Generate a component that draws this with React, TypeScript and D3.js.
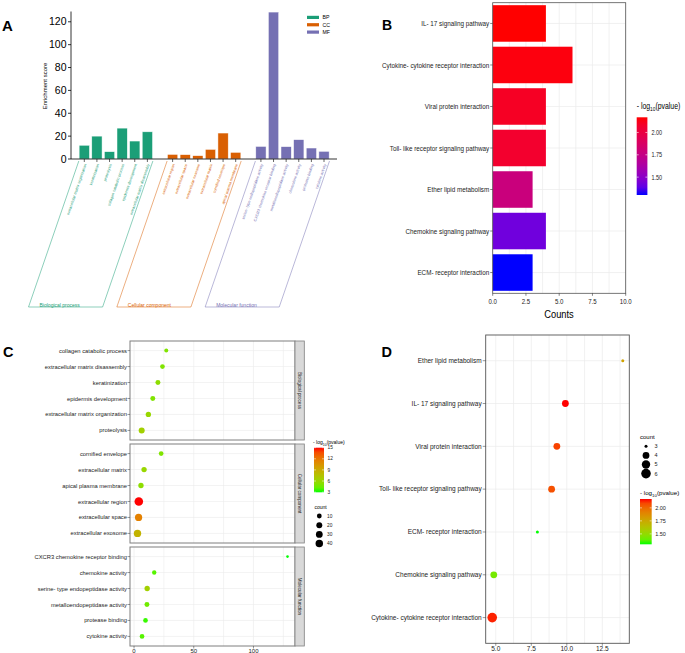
import React from "react";
import * as d3 from "d3";

const SANS = "'Liberation Sans', Arial, Helvetica, sans-serif";
const NARROW_SCALE = 0.81;

// ---------- GO enrichment data (panels A and C) ----------
const goOntologies = ["BP", "CC", "MF"];
const goOntologyNames = ["Biological process", "Cellular component", "Molecular function"];
const goColors = ["#1b9e77", "#d95f02", "#7570b3"];
const goTerms = [
  "extracellular matrix organization", "keratinization", "proteolysis",
  "collagen catabolic process", "epidermis development", "extracellular matrix disassembly",
  "extracellular region", "extracellular space", "extracellular exosome",
  "extracellular matrix", "cornified envelope", "apical plasma membrane",
  "serine- type endopeptidase activity", "CXCR3 chemokine receptor binding", "metalloendopeptidase activity",
  "chemokine activity", "protease binding", "cytokine activity",
];
const goOntologyOf = ["BP", "BP", "BP", "BP", "BP", "BP", "CC", "CC", "CC", "CC", "CC", "CC", "MF", "MF", "MF", "MF", "MF", "MF"];
const goEnrichment = [12, 20, 6.4, 27, 15.7, 23.8, 4.0, 3.8, 2.9, 8.4, 22.7, 5.8, 11, 128.5, 10.8, 16.9, 9.6, 6.7];
const goCount = [14, 11, 21, 5, 11, 9, 60, 37, 39, 14, 9, 14, 14, 2, 11, 7, 9, 9];
const goNegLogP = [6, 5.5, 6.5, 5, 5, 5, 15, 11.5, 8.5, 6, 5, 5.5, 6.5, 2.95, 4.5, 3.8, 3.3, 3.8];
const goScoreTicks = [0, 20, 40, 60, 80, 100, 120];
const goCountLegend = [10, 20, 30, 40];
const goPLegend = [3, 6, 9, 12, 15];

// ---------- KEGG data (panels B and D) ----------
const keggTerms = [
  "IL- 17 signaling pathway", "Cytokine- cytokine receptor interaction", "Viral protein interaction",
  "Toll- like receptor signaling pathway", "Ether lipid metabolism", "Chemokine signaling pathway",
  "ECM- receptor interaction",
];
const keggCount = [4, 6, 4, 4, 3, 4, 3];
const keggNegLogP = [2.17, 2.15, 2.1, 2.07, 1.78, 1.42, 1.3];
const keggEnrichment = [9.9, 4.75, 9.3, 8.93, 13.94, 4.86, 7.93];
const keggCountTicks = [0, 2.5, 5, 7.5, 10];
const keggPLegend = [1.5, 1.75, 2.0];
const keggEnrichTicks = [5, 7.5, 10, 12.5];
const keggCountLegend = [3, 4, 5, 6];

const keggPDomain = d3.extent(keggNegLogP) as [number, number];
const colBlueRed = d3.scaleLinear<string>().domain(keggPDomain).range(["#0000ff", "#ff0000"]).interpolate(d3.interpolateLab);
const colGreenRedK = d3.scaleLinear<string>().domain(keggPDomain).range(["#00ff00", "#ff0000"]).interpolate(d3.interpolateLab);
const goPDomain = d3.extent(goNegLogP) as [number, number];
const colGreenRedG = d3.scaleLinear<string>().domain(goPDomain).range(["#00ff00", "#ff0000"]).interpolate(d3.interpolateLab);

function Gradient({ id, scale, domain }: { id: string; scale: (v: number) => string; domain: [number, number] }) {
  const stops = d3.range(0, 1.0001, 0.1);
  return (
    <linearGradient id={id} x1="0" y1="1" x2="0" y2="0">
      {stops.map((t) => (
        <stop key={t} offset={t} stopColor={scale(domain[0] + t * (domain[1] - domain[0]))} />
      ))}
    </linearGradient>
  );
}

function NText({ x, y, size, anchor = "start", fill = "#222", children }: any) {
  return (
    <text transform={`translate(${x},${y}) scale(${NARROW_SCALE},1)`} dy="0.35em" textAnchor={anchor}
      fontSize={size} fontFamily={SANS} fill={fill}>{children}</text>
  );
}

function LogTitle({ x, y, size, narrow = false }: { x: number; y: number; size: number; narrow?: boolean }) {
  const sx = narrow ? NARROW_SCALE : 1;
  return (
    <text transform={`translate(${x},${y}) scale(${sx},1)`} fontSize={size} fontFamily={SANS} fill="#000">
      - log<tspan dy={size * 0.3} fontSize={size * 0.7}>10</tspan>
      <tspan dy={-size * 0.3}>(pvalue)</tspan>
    </text>
  );
}

function PanelA() {
  const y = d3.scaleLinear().domain([0, 129]).range([159, 11.5]);
  const x = d3.scalePoint<number>().domain(d3.range(20)).range([84.3, 324]);
  const bw = 10.3;
  const slotOf = goTerms.map((_, i) => {
    const g = goOntologies.indexOf(goOntologyOf[i]);
    const k = goOntologyOf.slice(0, i).filter((o) => o === goOntologyOf[i]).length;
    return g * 7 + k;
  });
  const angle = 71;
  const topY = 161;
  const botY = 307;
  const shift = (botY - topY) / Math.tan((angle * Math.PI) / 180);
  return (
    <g>
      <text x={2} y={31} fontSize={15} fontWeight="bold" fontFamily={SANS}>A</text>
      <line x1={71} x2={71} y1={11.5} y2={159} stroke="#000" strokeWidth={0.8} />
      {goScoreTicks.map((t) => (
        <g key={t}>
          <line x1={68} x2={71} y1={y(t)} y2={y(t)} stroke="#000" strokeWidth={0.8} />
          <text x={66.5} y={y(t)} dy="0.35em" textAnchor="end" fontSize={10.5} fontFamily={SANS}>{t}</text>
        </g>
      ))}
      <text transform={`translate(44.5,86) rotate(-90)`} textAnchor="middle" dy="0.35em" fontSize={6} fontFamily={SANS}>Enrichment score</text>
      {goTerms.map((t, i) => {
        const g = goOntologies.indexOf(goOntologyOf[i]);
        const cx = x(slotOf[i])!;
        return (
          <rect key={t} x={cx - bw / 2} y={y(goEnrichment[i])} width={bw} height={y(0) - y(goEnrichment[i])}
            fill={goColors[g]} stroke="#fff" strokeOpacity={0.8} strokeWidth={0.6} />
        );
      })}
      <line x1={71} x2={337} y1={159} y2={159} stroke="#000" strokeWidth={0.8} />
      {goTerms.map((t, i) => {
        const g = goOntologies.indexOf(goOntologyOf[i]);
        const cx = x(slotOf[i])!;
        return (
          <g key={t}>
            <line x1={cx} x2={cx} y1={159} y2={162} stroke="#000" strokeWidth={0.6} />
            <text transform={`translate(${cx + 1},${164}) rotate(${-angle})`} textAnchor="end" dy="0.35em"
              fontSize={3.8} fontFamily={SANS} fill={goColors[g]}>{t}</text>
          </g>
        );
      })}
      {goOntologies.map((o, g) => {
        const l = x(g * 7)! - 5.5;
        const r = x(g * 7 + 5)! + 5.5;
        return (
          <g key={o}>
            <path d={`M${l},${topY} L${l - shift},${botY} L${r - shift},${botY} L${r},${topY}`} fill="none"
              stroke={goColors[g]} strokeWidth={0.5} />
            <text x={l - shift + 11} y={botY - 0.3} fontSize={5} fontFamily={SANS} fill={goColors[g]}>{goOntologyNames[g]}</text>
          </g>
        );
      })}
      {goOntologies.map((o, g) => (
        <g key={o}>
          <rect x={307} y={15.8 + g * 7.35} width={12} height={3.2} fill={goColors[g]} />
          <text x={322.5} y={17.4 + g * 7.35} dy="0.35em" fontSize={5.2} fontFamily={SANS}>{o}</text>
        </g>
      ))}
    </g>
  );
}

function PanelB() {
  const x = d3.scaleLinear().domain([0, 10]).range([492.7, 625.7]);
  const y = d3.scaleBand<string>().domain(keggTerms).range([2.7, 293.3]).paddingInner(0.12).paddingOuter(0.06);
  const top = 2.7, bottom = 293.3;
  const grid = d3.range(0, 10.001, 1.25);
  const cb = { x: 636.7, w: 10.7, top: 117.3, bottom: 195 };
  const cy = d3.scaleLinear().domain(keggPDomain).range([cb.bottom, cb.top]);
  return (
    <g>
      <text x={382} y={30} fontSize={14} fontWeight="bold" fontFamily={SANS}>B</text>
      {grid.map((g) => (
        <line key={g} x1={x(g)} x2={x(g)} y1={top} y2={bottom} stroke="#ebebeb" strokeWidth={0.7} />
      ))}
      {keggTerms.map((t) => (
        <line key={t} x1={x(0)} x2={x(10)} y1={y(t)! + y.bandwidth() / 2} y2={y(t)! + y.bandwidth() / 2} stroke="#ebebeb" strokeWidth={0.7} />
      ))}
      {keggTerms.map((t, i) => (
        <rect key={t} x={x(0)} y={y(t)} width={x(keggCount[i]) - x(0)} height={y.bandwidth()} fill={colBlueRed(keggNegLogP[i])} />
      ))}
      <rect x={x(0)} y={top} width={x(10) - x(0)} height={bottom - top} fill="none" stroke="#555" strokeWidth={0.8} />
      {keggTerms.map((t) => {
        const cy0 = y(t)! + y.bandwidth() / 2;
        return (
          <g key={t}>
            <line x1={x(0) - 2.5} x2={x(0)} y1={cy0} y2={cy0} stroke="#333" strokeWidth={0.6} />
            <NText x={x(0) - 3.5} y={cy0} size={7.8} anchor="end">{t}</NText>
          </g>
        );
      })}
      {keggCountTicks.map((t) => (
        <g key={t}>
          <line x1={x(t)} x2={x(t)} y1={bottom} y2={bottom + 2.5} stroke="#333" strokeWidth={0.6} />
          <NText x={x(t)} y={bottom + 8.5} size={7.5} anchor="middle">{d3.format(".1f")(t)}</NText>
        </g>
      ))}
      <NText x={559} y={314} size={11.5} anchor="middle" fill="#000">Counts</NText>
      <LogTitle x={636.7} y={108.5} size={8.5} narrow />
      <rect x={cb.x} y={cb.top} width={cb.w} height={cb.bottom - cb.top} fill="url(#gradB)" />
      {keggPLegend.map((t) => (
        <g key={t}>
          <line x1={cb.x} x2={cb.x + 2} y1={cy(t)} y2={cy(t)} stroke="#fff" strokeWidth={0.6} />
          <line x1={cb.x + cb.w - 2} x2={cb.x + cb.w} y1={cy(t)} y2={cy(t)} stroke="#fff" strokeWidth={0.6} />
          <NText x={cb.x + cb.w + 4} y={cy(t)} size={6.8}>{d3.format(".2f")(t)}</NText>
        </g>
      ))}
    </g>
  );
}

function PanelC() {
  const left = 130, right = 295;
  const [mn, mx] = d3.extent(goEnrichment) as [number, number];
  const pad = (mx - mn) * 0.05;
  const x = d3.scaleLinear().domain([mn - pad, mx + pad]).range([left, right]);
  const r = (c: number) => 1.3 + 3.0 * Math.sqrt((c - 2) / 58);
  const panelTop = 341, panelH = 99, gap = 4;
  const grid = d3.range(0, 126, 25);
  const cb = { x: 314, w: 10, top: 447.7, bottom: 492.3 };
  const cy = d3.scaleLinear().domain(goPDomain).range([cb.bottom, cb.top]);
  return (
    <g>
      <text x={3} y={357} fontSize={14.5} fontWeight="bold" fontFamily={SANS}>C</text>
      {goOntologies.map((o, g) => {
        const idx = goTerms.map((_, i) => i).filter((i) => goOntologyOf[i] === o)
          .sort((a, b) => goEnrichment[b] - goEnrichment[a]);
        const t0 = panelTop + g * (panelH + gap);
        const y = d3.scalePoint<number>().domain(idx).range([t0, t0 + panelH]).padding(0.6);
        return (
          <g key={o}>
            {grid.map((v) => (
              <line key={v} x1={x(v)} x2={x(v)} y1={t0} y2={t0 + panelH} stroke="#ebebeb" strokeWidth={0.6} />
            ))}
            {idx.map((i) => (
              <line key={i} x1={left} x2={right} y1={y(i)} y2={y(i)} stroke="#ebebeb" strokeWidth={0.6} />
            ))}
            {idx.map((i) => (
              <circle key={i} cx={x(goEnrichment[i])} cy={y(i)} r={r(goCount[i])} fill={colGreenRedG(goNegLogP[i])} />
            ))}
            <rect x={left} y={t0} width={right - left} height={panelH} fill="none" stroke="#7f7f7f" strokeWidth={1} />
            <rect x={right} y={t0} width={9.3} height={panelH} fill="#d9d9d9" stroke="#7f7f7f" strokeWidth={0.8} />
            <text transform={`translate(${right + 4.65},${t0 + panelH / 2}) rotate(90)`} textAnchor="middle" dy="0.35em"
              fontSize={4.6} fontFamily={SANS} fill="#1a1a1a">{goOntologyNames[g]}</text>
            {idx.map((i) => (
              <g key={i}>
                <line x1={left - 2.5} x2={left} y1={y(i)} y2={y(i)} stroke="#333" strokeWidth={0.5} />
                <text x={left - 3} y={y(i)} dy="0.35em" textAnchor="end" fontSize={5.8} fontFamily={SANS} fill="#222">{goTerms[i]}</text>
              </g>
            ))}
          </g>
        );
      })}
      {[0, 50, 100].map((v) => {
        const b = panelTop + 3 * panelH + 2 * gap;
        return (
          <g key={v}>
            <line x1={x(v)} x2={x(v)} y1={b} y2={b + 2.5} stroke="#333" strokeWidth={0.5} />
            <text x={x(v)} y={b + 5} dy="0.35em" textAnchor="middle" fontSize={6} fontFamily={SANS} fill="#222">{v}</text>
          </g>
        );
      })}
      <LogTitle x={313} y={444} size={5} />
      <rect x={cb.x} y={cb.top} width={cb.w} height={cb.bottom - cb.top} fill="url(#gradC)" />
      {goPLegend.map((t) => (
        <g key={t}>
          <line x1={cb.x} x2={cb.x + 2} y1={cy(t)} y2={cy(t)} stroke="#fff" strokeWidth={0.5} />
          <line x1={cb.x + cb.w - 2} x2={cb.x + cb.w} y1={cy(t)} y2={cy(t)} stroke="#fff" strokeWidth={0.5} />
          <text x={cb.x + cb.w + 3.5} y={cy(t)} dy="0.35em" fontSize={4.8} fontFamily={SANS} fill="#222">{t}</text>
        </g>
      ))}
      <text x={314.5} y={507} dy="0.35em" fontSize={5} fontFamily={SANS}>count</text>
      {goCountLegend.map((c, k) => (
        <g key={c}>
          <circle cx={319.3} cy={516 + k * 9.2} r={r(c)} fill="#000" />
          <text x={327} y={516 + k * 9.2} dy="0.35em" fontSize={4.8} fontFamily={SANS} fill="#222">{c}</text>
        </g>
      ))}
    </g>
  );
}

function PanelD() {
  const left = 485.7, right = 629.3, top = 335, bottom = 643.3;
  const [mn, mx] = d3.extent(keggEnrichment) as [number, number];
  const pad = (mx - mn) * 0.05;
  const x = d3.scaleLinear().domain([mn - pad, mx + pad]).range([left, right]);
  const order = keggTerms.map((_, i) => i).sort((a, b) => keggEnrichment[b] - keggEnrichment[a]);
  const y = d3.scalePoint<number>().domain(order).range([top, bottom]).padding(0.6);
  const r = (c: number) => 1.5 + 3.3 * Math.sqrt((c - 3) / 3);
  const grid = d3.range(5, 14.01, 1.25);
  const cb = { x: 640, w: 11.7, top: 499, bottom: 544.3 };
  const cy = d3.scaleLinear().domain(keggPDomain).range([cb.bottom, cb.top]);
  return (
    <g>
      <text x={381.5} y={356.5} fontSize={14.5} fontWeight="bold" fontFamily={SANS}>D</text>
      {grid.map((v) => (
        <line key={v} x1={x(v)} x2={x(v)} y1={top} y2={bottom} stroke="#ebebeb" strokeWidth={0.7} />
      ))}
      {order.map((i) => (
        <line key={i} x1={left} x2={right} y1={y(i)} y2={y(i)} stroke="#ebebeb" strokeWidth={0.7} />
      ))}
      {order.map((i) => (
        <circle key={i} cx={x(keggEnrichment[i])} cy={y(i)} r={r(keggCount[i])} fill={colGreenRedK(keggNegLogP[i])} />
      ))}
      <rect x={left} y={top} width={right - left} height={bottom - top} fill="none" stroke="#555" strokeWidth={0.9} />
      {order.map((i) => (
        <g key={i}>
          <line x1={left - 3} x2={left} y1={y(i)} y2={y(i)} stroke="#333" strokeWidth={0.5} />
          <text x={left - 4} y={y(i)} dy="0.35em" textAnchor="end" fontSize={6.5} fontFamily={SANS} fill="#222">{keggTerms[i]}</text>
        </g>
      ))}
      {keggEnrichTicks.map((v) => (
        <g key={v}>
          <line x1={x(v)} x2={x(v)} y1={bottom} y2={bottom + 2.5} stroke="#333" strokeWidth={0.5} />
          <text x={x(v)} y={bottom + 5.5} dy="0.35em" textAnchor="middle" fontSize={6.5} fontFamily={SANS} fill="#222">{d3.format(".1f")(v)}</text>
        </g>
      ))}
      <text x={640} y={437} dy="0.35em" fontSize={6} fontFamily={SANS}>count</text>
      {keggCountLegend.map((c, k) => (
        <g key={c}>
          <circle cx={646} cy={446.3 + k * 9.1} r={r(c)} fill="#000" />
          <text x={654.5} y={446.3 + k * 9.1} dy="0.35em" fontSize={5.5} fontFamily={SANS} fill="#222">{c}</text>
        </g>
      ))}
      <LogTitle x={640} y={495} size={6.2} />
      <rect x={cb.x} y={cb.top} width={cb.w} height={cb.bottom - cb.top} fill="url(#gradD)" />
      {keggPLegend.map((t) => (
        <g key={t}>
          <line x1={cb.x} x2={cb.x + 2} y1={cy(t)} y2={cy(t)} stroke="#fff" strokeWidth={0.5} />
          <line x1={cb.x + cb.w - 2} x2={cb.x + cb.w} y1={cy(t)} y2={cy(t)} stroke="#fff" strokeWidth={0.5} />
          <text x={cb.x + cb.w + 3.5} y={cy(t)} dy="0.35em" fontSize={5.5} fontFamily={SANS} fill="#222">{d3.format(".2f")(t)}</text>
        </g>
      ))}
    </g>
  );
}

export default function App() {
  return (
    <div style={{ position: "absolute", left: 0, top: 0, width: 685, height: 653, background: "#fff", overflow: "hidden" }}>
      <svg width={685} height={653} style={{ display: "block" }}>
        <defs>
          <Gradient id="gradB" scale={colBlueRed} domain={keggPDomain} />
          <Gradient id="gradC" scale={colGreenRedG} domain={goPDomain} />
          <Gradient id="gradD" scale={colGreenRedK} domain={keggPDomain} />
        </defs>
        <rect width={685} height={653} fill="#fff" />
        <PanelA />
        <PanelB />
        <PanelC />
        <PanelD />
      </svg>
    </div>
  );
}
